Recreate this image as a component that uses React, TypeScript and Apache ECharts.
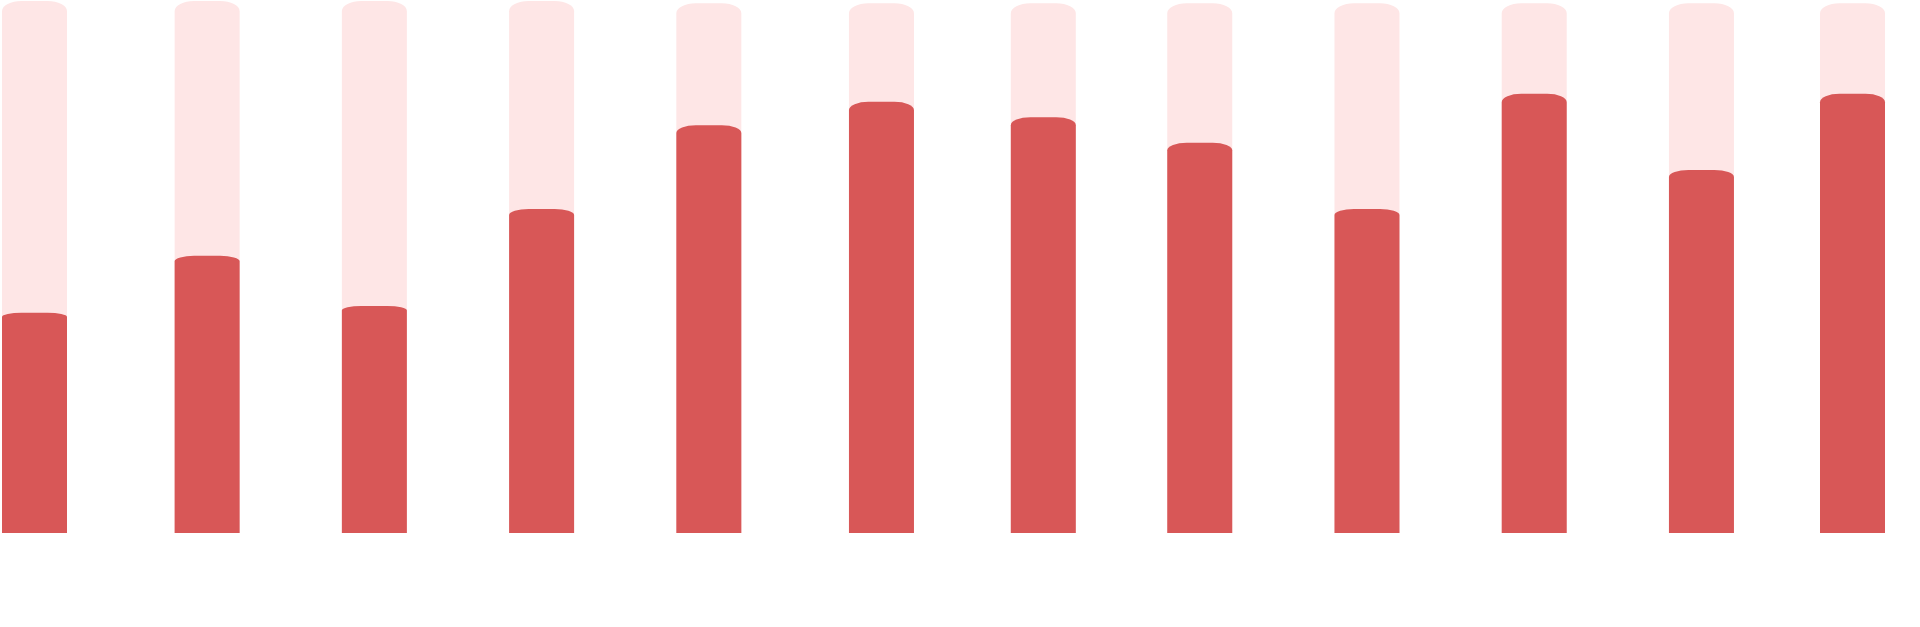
import { useEffect, useRef } from "react";
import * as echarts from "echarts";

// x position of each bar (value axis, labels hidden)
const xValues = [0, 32, 63, 94, 125, 157, 187, 216, 247, 278, 309, 337];
// pale background column and red filled column, y axis 0..100
const backValues = [99.8, 99.8, 99.8, 99.8, 99.4, 99.4, 99.4, 99.4, 99.4, 99.4, 99.4, 99.4];
const frontValues = [41.3, 52.0, 42.6, 60.8, 76.5, 80.9, 78.0, 73.2, 60.8, 82.4, 68.1, 82.4];

const BAR_WIDTH = 65;

// column with a rounded top whose corners stretch with the bar height
const renderColumn = (color: string) => (params: any, api: any) => {
  const top = api.coord([api.value(0), api.value(1)]);
  const base = api.coord([api.value(0), 0]);
  const x0 = top[0] - BAR_WIDTH / 2;
  const x1 = top[0] + BAR_WIDTH / 2;
  const h = base[1] - top[1];
  const rx = BAR_WIDTH * 0.3;
  const ry = h * 0.019;
  const d =
    `M${x0} ${base[1]} L${x0} ${top[1] + ry} ` +
    `A${rx} ${ry} 0 0 1 ${x0 + rx} ${top[1]} L${x1 - rx} ${top[1]} ` +
    `A${rx} ${ry} 0 0 1 ${x1} ${top[1] + ry} L${x1} ${base[1]} Z`;
  return {
    type: "path",
    shape: { pathData: d },
    style: { fill: color },
  };
};

export default function App() {
  const chartRef = useRef<HTMLDivElement>(null);

  useEffect(() => {
    document.body.style.margin = "0";
    if (!chartRef.current) return;
    const chart = echarts.init(chartRef.current, null, { renderer: "svg" });

    chart.setOption({
      animation: false,
      backgroundColor: "#ffffff",
      grid: { left: 34.5, right: 67.5, top: 0, bottom: 94 },
      xAxis: {
        type: "value",
        min: 0,
        max: 337,
        show: false,
        splitLine: { show: false },
      },
      yAxis: {
        type: "value",
        min: 0,
        max: 100,
        show: false,
        splitLine: { show: false },
      },
      series: [
        {
          name: "background",
          type: "custom",
          clip: false,
          renderItem: renderColumn("#fee6e6"),
          data: xValues.map((x, i) => [x, backValues[i]]),
        },
        {
          name: "value",
          type: "custom",
          clip: false,
          renderItem: renderColumn("#d85757"),
          data: xValues.map((x, i) => [x, frontValues[i]]),
        },
      ],
    });

    return () => {
      chart.dispose();
    };
  }, []);

  return <div ref={chartRef} style={{ width: "1920px", height: "627px" }} />;
}
